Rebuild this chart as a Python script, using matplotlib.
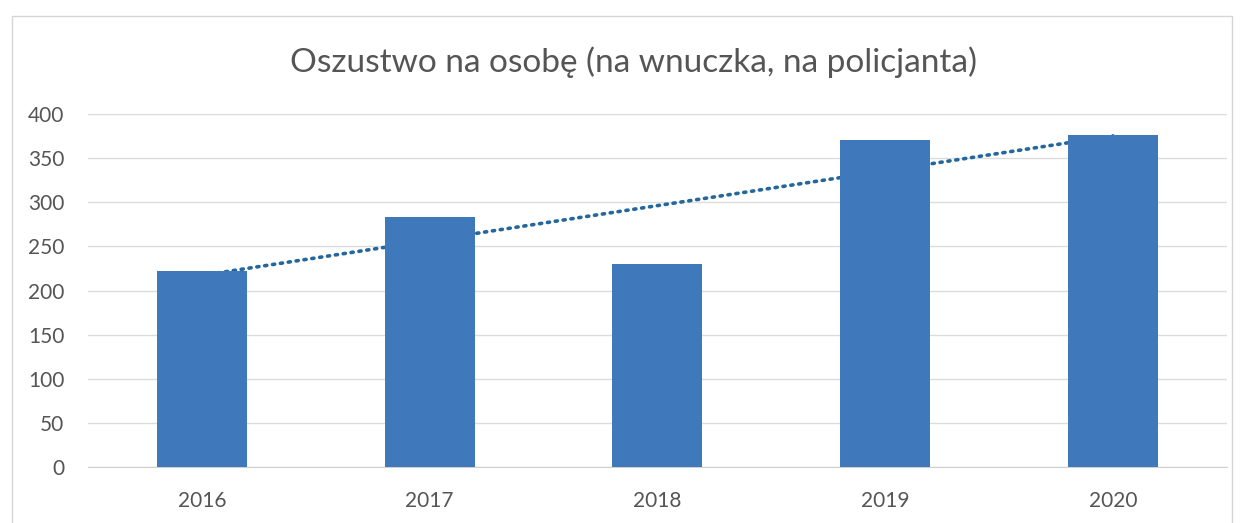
import matplotlib
matplotlib.use("Agg")
import matplotlib.pyplot as plt
import numpy as np

# data
years = ["2016", "2017", "2018", "2019", "2020"]
values = [222, 283, 230, 370, 376]
yticks = [0, 50, 100, 150, 200, 250, 300, 350, 400]

plt.rcParams['font.family'] = ['Lato', 'DejaVu Sans']

fig = plt.figure(figsize=(12.44, 5.23), dpi=100)
ax = fig.add_axes([0.0707, 0.107, 0.9156, 0.675])

x = np.arange(len(years))
ax.bar(x, values, width=0.395, color="#4079bb", zorder=3)

# linear trend line like the Excel one
coef = np.polyfit(x, values, 1)
trend = np.polyval(coef, x)
ax.plot(x, trend, linestyle=(0, (0.6, 1.6)), dash_capstyle="round",
        color="#23679c", linewidth=2.6, zorder=2)

ax.set_ylim(0, 400)
ax.set_xlim(-0.5, len(years) - 0.5)
ax.set_yticks(yticks)
ax.set_xticks(x)
ax.set_xticklabels(years)
ax.tick_params(axis="both", length=0, labelsize=15, colors="#555555")
ax.tick_params(axis="y", pad=17)
ax.tick_params(axis="x", pad=17)
ax.grid(axis="y", color="#dcdcdc", linewidth=1, zorder=0)
for s in ["top", "right", "left"]:
    ax.spines[s].set_visible(False)
ax.spines["bottom"].set_color("#d0d0d0")

fig.text(0.509, 0.881, "Oszustwo na osobę (na wnuczka, na policjanta)",
         ha="center", va="center", fontsize=24, color="#555555")

# chart border
fig.patches.append(plt.Rectangle((0.01, -0.01), 0.98, 0.98, transform=fig.transFigure,
                                 fill=False, edgecolor="#d6d6d6", linewidth=1))

fig.savefig("out.png", dpi=100)
